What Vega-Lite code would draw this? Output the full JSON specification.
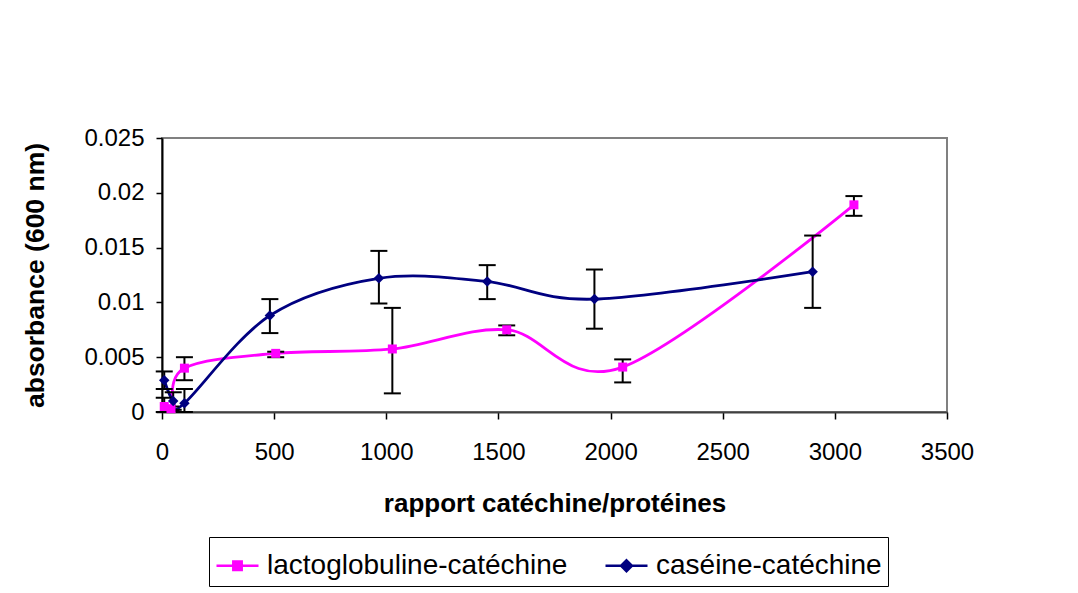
{
  "$schema": "https://vega.github.io/schema/vega-lite/v6.json",
  "width": 785,
  "height": 274,
  "autosize": {"type": "none"},
  "padding": {"left": 162, "top": 138, "right": 131, "bottom": 181},
  "background": "white",
  "config": {
    "font": "Liberation Sans",
    "view": {"stroke": "#808080", "strokeWidth": 2},
    "axis": {"grid": false, "labelColor": "black", "titleColor": "black", "tickColor": "black", "labelFont": "Liberation Sans", "titleFont": "Liberation Sans"}
  },
  "data": {
    "values": [
      {"serie": "lactoglobuline-catéchine", "x": 10, "y": 0.0005, "lo": 0.0, "hi": 0.0013},
      {"serie": "lactoglobuline-catéchine", "x": 40, "y": 0.0003, "lo": 0.0001, "hi": 0.0005},
      {"serie": "lactoglobuline-catéchine", "x": 100, "y": 0.004, "lo": 0.0029, "hi": 0.005},
      {"serie": "lactoglobuline-catéchine", "x": 507, "y": 0.00535, "lo": 0.005, "hi": 0.0055},
      {"serie": "lactoglobuline-catéchine", "x": 1027, "y": 0.00575, "lo": 0.0017, "hi": 0.0095},
      {"serie": "lactoglobuline-catéchine", "x": 1537, "y": 0.0075, "lo": 0.007, "hi": 0.0079},
      {"serie": "lactoglobuline-catéchine", "x": 2054, "y": 0.0041, "lo": 0.0027, "hi": 0.0048},
      {"serie": "lactoglobuline-catéchine", "x": 3085, "y": 0.0189, "lo": 0.0179, "hi": 0.0197},
      {"serie": "caséine-catéchine", "x": 10, "y": 0.0029, "lo": 0.0021, "hi": 0.0037},
      {"serie": "caséine-catéchine", "x": 50, "y": 0.001, "lo": 0.0002, "hi": 0.0018},
      {"serie": "caséine-catéchine", "x": 100, "y": 0.0008, "lo": 0.0, "hi": 0.0021},
      {"serie": "caséine-catéchine", "x": 481, "y": 0.0088, "lo": 0.0072, "hi": 0.0103},
      {"serie": "caséine-catéchine", "x": 967, "y": 0.0122, "lo": 0.0099, "hi": 0.0147},
      {"serie": "caséine-catéchine", "x": 1450, "y": 0.0119, "lo": 0.0103, "hi": 0.0134},
      {"serie": "caséine-catéchine", "x": 1928, "y": 0.0103, "lo": 0.0076, "hi": 0.013},
      {"serie": "caséine-catéchine", "x": 2901, "y": 0.0128, "lo": 0.0095, "hi": 0.0161}
    ]
  },
  "layer": [
    {
      "transform": [{"filter": "datum.serie === 'lactoglobuline-catéchine'"}],
      "mark": {"type": "line", "interpolate": "cardinal", "strokeWidth": 2.8, "color": "#FF00FF"},
      "encoding": {
        "x": {"field": "x", "type": "quantitative", "scale": {"domain": [0, 3500], "nice": false, "zero": true},
          "axis": {"title": "rapport catéchine/protéines", "values": [0, 500, 1000, 1500, 2000, 2500, 3000, 3500], "format": "d",
            "labelFontSize": 24, "titleFontSize": 26, "titleFontWeight": "bold", "tickSize": 7, "tickWidth": 1.5, "labelPadding": 21, "titlePadding": 26,
            "domainColor": "#404040", "domainWidth": 2, "labelFlush": false}},
        "y": {"field": "y", "type": "quantitative", "scale": {"domain": [0, 0.025], "nice": false},
          "axis": {"title": "absorbance (600 nm)", "values": [0, 0.005, 0.01, 0.015, 0.02, 0.025], "format": "~g",
            "labelFontSize": 24, "titleFontSize": 26.5, "titleFontWeight": "bold", "tickSize": 6, "tickWidth": 1.5, "labelPadding": 12, "titlePadding": 34,
            "domainColor": "black", "domainWidth": 2, "labelFlush": false}}
      }
    },
    {
      "transform": [{"filter": "datum.serie === 'caséine-catéchine'"}],
      "mark": {"type": "line", "interpolate": "cardinal", "strokeWidth": 2.8, "color": "#000080"},
      "encoding": {
        "x": {"field": "x", "type": "quantitative"},
        "y": {"field": "y", "type": "quantitative"}
      }
    },
    {
      "mark": {"type": "rule", "color": "black", "strokeWidth": 2},
      "encoding": {
        "x": {"field": "x", "type": "quantitative"},
        "y": {"field": "lo", "type": "quantitative"},
        "y2": {"field": "hi"}
      }
    },
    {
      "mark": {"type": "tick", "orient": "horizontal", "color": "black", "size": 17, "thickness": 2, "opacity": 1},
      "encoding": {
        "x": {"field": "x", "type": "quantitative"},
        "y": {"field": "lo", "type": "quantitative"}
      }
    },
    {
      "mark": {"type": "tick", "orient": "horizontal", "color": "black", "size": 17, "thickness": 2, "opacity": 1},
      "encoding": {
        "x": {"field": "x", "type": "quantitative"},
        "y": {"field": "hi", "type": "quantitative"}
      }
    },
    {
      "transform": [{"filter": "datum.serie === 'lactoglobuline-catéchine'"}],
      "mark": {"type": "point", "filled": true, "opacity": 1, "strokeWidth": 0, "shape": "square", "size": 81, "color": "#FF00FF"},
      "encoding": {
        "x": {"field": "x", "type": "quantitative"},
        "y": {"field": "y", "type": "quantitative"}
      }
    },
    {
      "transform": [{"filter": "datum.serie === 'caséine-catéchine'"}],
      "mark": {"type": "point", "filled": true, "opacity": 1, "strokeWidth": 0, "shape": "diamond", "size": 110, "color": "#000080"},
      "encoding": {
        "x": {"field": "x", "type": "quantitative"},
        "y": {"field": "y", "type": "quantitative"}
      }
    },
    {
      "mark": {"type": "point", "filled": true, "opacity": 0},
      "encoding": {
        "x": {"field": "x", "type": "quantitative"},
        "y": {"field": "y", "type": "quantitative"},
        "fill": {"field": "serie", "type": "nominal",
          "scale": {"domain": ["lactoglobuline-catéchine", "caséine-catéchine"], "range": ["#FF00FF", "#000080"]},
          "legend": {
            "orient": "none", "legendX": 47, "legendY": 399, "direction": "horizontal", "title": null,
            "strokeColor": "black", "fillColor": "white", "padding": 6, "cornerRadius": 0,
            "labelFont": "Liberation Sans", "labelFontSize": 28, "labelColor": "black", "labelLimit": 0,
            "symbolSize": 1764, "symbolStrokeWidth": 2.5, "symbolOpacity": 1, "labelOffset": 7, "columnPadding": 32
          }},
        "stroke": {"field": "serie", "type": "nominal",
          "scale": {"domain": ["lactoglobuline-catéchine", "caséine-catéchine"], "range": ["#FF00FF", "#000080"]}},
        "shape": {"field": "serie", "type": "nominal",
          "scale": {"domain": ["lactoglobuline-catéchine", "caséine-catéchine"], "range": [
            "M-1,0H1M-0.2,-0.2H0.2V0.2H-0.2ZM-0.2,-0.1H0.2M-0.2,0.1H0.2",
            "M-1,0H1M0,-0.26L0.26,0L0,0.26L-0.26,0ZM-0.16,-0.1H0.16M-0.16,0.1H0.16M-0.06,-0.19H0.06M-0.06,0.19H0.06"]}}
      }
    }
  ]
}
